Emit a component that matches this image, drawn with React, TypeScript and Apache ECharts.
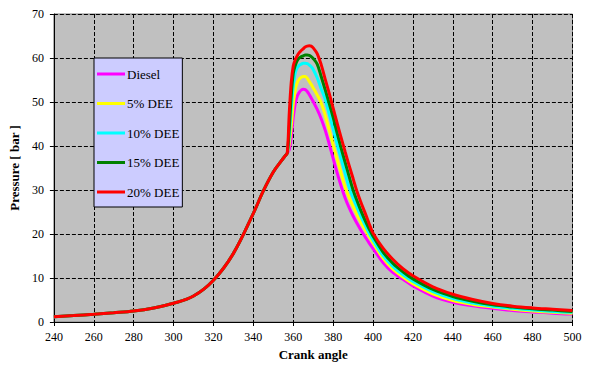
import React, { useEffect, useRef } from "react";
import * as echarts from "echarts";

// Crank angles (deg): shared compression stroke, then combustion/expansion
const compressionAngles = [240, 250, 260, 270, 280, 290, 300, 310, 320, 330, 340, 345, 350, 354, 356, 357];
const compressionPressure = [1.2, 1.45, 1.75, 2.1, 2.5, 3.2, 4.25, 5.9, 9.5, 15.6, 24.7, 29.8, 34.1, 36.6, 37.8, 38.4];

const combustionAngles = [
  358, 359, 360, 361, 362, 363, 364, 365, 366, 367, 368, 369, 370,
  372, 374, 376, 378, 380, 382, 384, 386, 388, 390, 392, 394, 396, 398, 400,
  405, 410, 415, 420, 430, 440, 450, 460, 470, 480, 490, 500,
];

const diesel = [
  39.2, 42.0, 46.5, 49.6, 51.3, 52.2, 52.7, 52.9, 52.8, 52.4, 51.7, 50.9, 50.1,
  48.3, 46.2, 43.6, 40.5, 37.2, 33.9, 30.9, 28.2, 26.0, 24.1, 22.4, 20.8, 19.4, 18.0, 16.7,
  13.5, 11.2, 9.7, 8.2, 5.9, 4.5, 3.7, 3.1, 2.6, 2.3, 2.0, 1.8,
];
const dee5 = [
  40.5, 44.5, 49.5, 52.8, 54.4, 55.2, 55.6, 55.8, 55.8, 55.4, 54.7, 54.0, 53.2,
  51.6, 49.8, 47.0, 43.7, 40.3, 37.0, 33.8, 30.7, 28.3, 26.3, 24.4, 22.6, 21.0, 19.5, 18.0,
  14.5, 12.0, 10.2, 8.7, 6.4, 4.9, 4.0, 3.4, 2.9, 2.5, 2.2, 2.0,
];
const dee10 = [
  42.0, 48.5, 53.5, 56.6, 57.8, 58.3, 58.6, 58.8, 58.8, 58.7, 58.4, 58.0, 57.4,
  55.5, 53.0, 50.6, 47.3, 43.9, 40.4, 37.1, 33.8, 30.6, 28.2, 26.0, 23.9, 22.0, 20.2, 18.6,
  15.1, 12.6, 10.7, 9.2, 6.9, 5.3, 4.3, 3.6, 3.1, 2.7, 2.4, 2.2,
];
const dee15 = [
  44.0, 51.5, 56.5, 58.3, 59.4, 60.0, 60.3, 60.5, 60.7, 60.7, 60.6, 60.3, 59.9,
  58.6, 55.8, 52.8, 49.7, 46.5, 42.9, 39.5, 36.3, 33.1, 30.0, 27.5, 25.2, 23.1, 21.2, 19.5,
  15.9, 13.3, 11.4, 9.8, 7.4, 5.8, 4.7, 3.9, 3.4, 3.0, 2.7, 2.4,
];
const dee20 = [
  47.5, 54.5, 58.2, 59.6, 60.5, 61.2, 61.7, 62.1, 62.5, 62.7, 62.8, 62.7, 62.3,
  61.0, 58.5, 55.2, 52.0, 48.6, 45.2, 41.9, 38.7, 35.6, 32.6, 29.6, 27.1, 24.8, 22.4, 20.2,
  16.8, 14.2, 12.1, 10.5, 8.0, 6.3, 5.1, 4.2, 3.6, 3.2, 2.9, 2.6,
];

const seriesNames = ["Diesel", "5% DEE", "10% DEE", "15% DEE", "20% DEE"];
const seriesColors = ["#FF00FF", "#FFFF00", "#00FFFF", "#008000", "#FF0000"];
const seriesValues = [diesel, dee5, dee10, dee15, dee20];

const FONT = "Liberation Serif";

function buildPoints(vals: number[]): number[][] {
  const pts: number[][] = compressionAngles.map((a, i) => [a, compressionPressure[i]]);
  combustionAngles.forEach((a, i) => pts.push([a, vals[i]]));
  return pts;
}

export default function App() {
  const ref = useRef<HTMLDivElement>(null);
  useEffect(() => {
    if (!ref.current) return;
    const chart = echarts.init(ref.current, undefined, { renderer: "svg" });
    chart.setOption({
      animation: false,
      backgroundColor: "#FFFFFF",
      textStyle: { fontFamily: FONT },
      grid: {
        left: 44.5,
        right: 29.5,
        top: 14,
        bottom: 45,
        show: true,
        backgroundColor: "#C0C0C0",
        borderColor: "#808080",
        borderWidth: 1,
      },
      legend: {
        orient: "vertical",
        left: 94,
        top: 58,
        padding: [9, 3, 8, 3],
        icon: "rect",
        itemWidth: 28,
        itemHeight: 3,
        itemGap: 15.5,
        backgroundColor: "#CCCCFF",
        borderColor: "#000000",
        borderWidth: 1,
        borderRadius: 0,
        textStyle: {
          fontFamily: FONT,
          fontSize: 13,
          lineHeight: 14,
          color: "#000000",
          padding: [0, 0, 0, -3],
        },
        data: seriesNames,
      },
      xAxis: {
        type: "value",
        min: 240,
        max: 500,
        interval: 20,
        name: "Crank angle",
        nameLocation: "middle",
        nameGap: 22,
        nameTextStyle: { fontFamily: FONT, fontSize: 13, fontWeight: "bold", color: "#000" },
        axisLine: { show: true, onZero: false, lineStyle: { color: "#000", width: 1 } },
        axisTick: { show: true, length: 4, lineStyle: { color: "#000" } },
        axisLabel: { fontFamily: FONT, fontSize: 12, color: "#000", margin: 9 },
        splitLine: { show: true, lineStyle: { color: "#000", type: [4, 2], width: 1 } },
      },
      yAxis: {
        type: "value",
        min: 0,
        max: 70,
        interval: 10,
        name: "Pressure [ bar ]",
        nameLocation: "middle",
        nameGap: 24,
        nameTextStyle: { fontFamily: FONT, fontSize: 13, fontWeight: "bold", color: "#000" },
        axisLine: { show: true, lineStyle: { color: "#000", width: 1 } },
        axisTick: { show: true, length: 4, lineStyle: { color: "#000" } },
        axisLabel: { fontFamily: FONT, fontSize: 12, color: "#000", margin: 10 },
        splitLine: { show: true, lineStyle: { color: "#000", type: [4, 2], width: 1 } },
      },
      series: seriesNames.map((name, i) => ({
        name,
        type: "line",
        data: buildPoints(seriesValues[i]),
        showSymbol: false,
        symbol: "none",
        smooth: 0.35,
        color: seriesColors[i],
        itemStyle: { color: seriesColors[i] },
        lineStyle: { color: seriesColors[i], width: 3 },
        z: 2 + i,
      })),
    });
    return () => chart.dispose();
  }, []);
  return (
    <div
      ref={ref}
      style={{ position: "fixed", left: 0, top: 0, width: 602, height: 367 }}
    />
  );
}
